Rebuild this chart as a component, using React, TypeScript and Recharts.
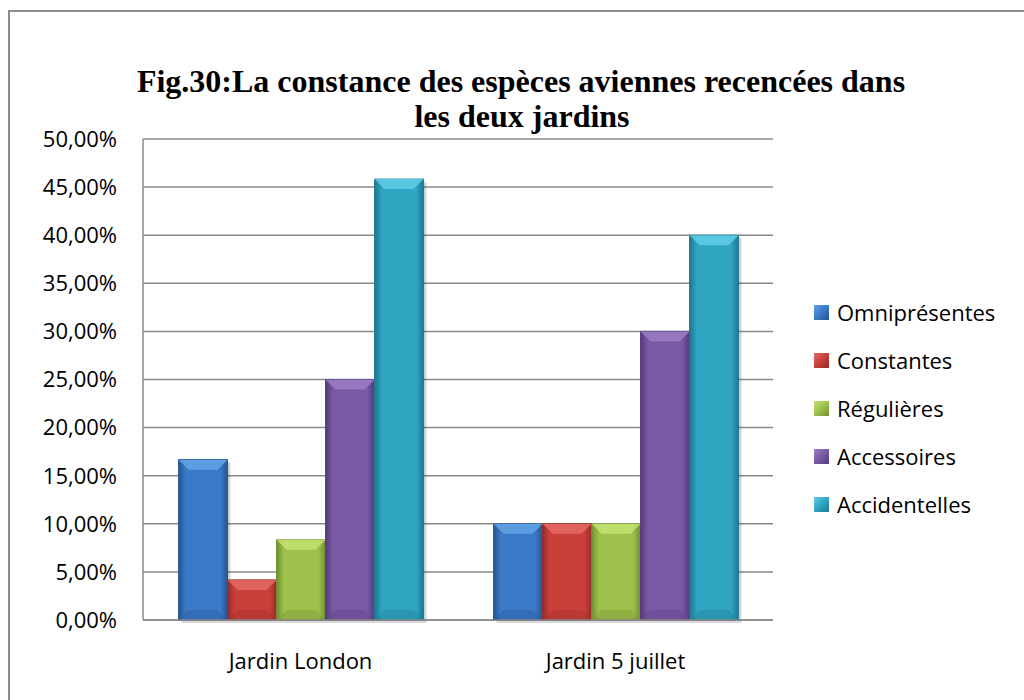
import { BarChart, Bar, XAxis, YAxis, CartesianGrid, Legend } from 'recharts';

const categories = ['Jardin London', 'Jardin 5 juillet'];
const omnipresentes = [16.67, 10];
const constantes = [4.17, 10];
const regulieres = [8.33, 10];
const accessoires = [25, 30];
const accidentelles = [45.83, 40];
const seriesNames = ['Omniprésentes', 'Constantes', 'Régulières', 'Accessoires', 'Accidentelles'];
const yTicks = [0, 5, 10, 15, 20, 25, 30, 35, 40, 45, 50];

const seriesValues = [omnipresentes, constantes, regulieres, accessoires, accidentelles];
const keys = ['omni', 'const', 'reg', 'acc', 'accid'];

const data = categories.map((name, i) => {
  const row: Record<string, string | number> = { name };
  keys.forEach((k, s) => { row[k] = seriesValues[s][i]; });
  return row;
});

// body / light top bevel / dark edge
const palette = [
  { body: '#3b79c9', light: '#63a3e6', edge: '#26548f' },
  { body: '#c9403b', light: '#e46a64', edge: '#962c28' },
  { body: '#9dc14b', light: '#c3e272', edge: '#6f8f33' },
  { body: '#7958a5', light: '#9b7ec6', edge: '#553a7e' },
  { body: '#30a5c2', light: '#62cde6', edge: '#1d7890' },
];

const sans = '"Open Sans", sans-serif';
const fmt = (v: number) => v.toFixed(2).replace('.', ',') + '%';

function BevelBar(props: any) {
  const { x, y, width, height, idx } = props;
  if (!height || height <= 0) return null;
  const c = palette[idx];
  const b = Math.min(10, height / 2);
  return (
    <g>
      <rect x={x + 3} y={y + 3} width={width} height={height} fill="rgba(0,0,0,0.15)" />
      <rect x={x} y={y} width={width} height={height} fill={`url(#grad${idx})`} stroke={c.edge} strokeWidth={1} />
      <polygon
        points={`${x},${y} ${x + width},${y} ${x + width - b},${y + b} ${x + b},${y + b}`}
        fill={c.light}
        opacity={0.85}
      />
      <polygon
        points={`${x},${y + height} ${x + width},${y + height} ${x + width - b},${y + height - b} ${x + b},${y + height - b}`}
        fill={c.edge}
        opacity={0.3}
      />
    </g>
  );
}

function LegendBox() {
  return (
    <div style={{ fontFamily: sans, fontSize: 22, color: '#000' }}>
      {seriesNames.map((n, i) => (
        <div key={n} style={{ display: 'flex', alignItems: 'center', height: 48 }}>
          <span
            style={{
              width: 15,
              height: 15,
              marginRight: 8,
              background: `linear-gradient(135deg, ${palette[i].light}, ${palette[i].body} 50%, ${palette[i].edge})`,
              display: 'inline-block',
            }}
          />
          <span>{n}</span>
        </div>
      ))}
    </div>
  );
}

const titleStyle: any = {
  position: 'absolute',
  whiteSpace: 'nowrap',
  transform: 'translateX(-50%)',
  fontFamily: '"Liberation Serif", serif',
  fontWeight: 'bold',
  fontSize: 32,
  lineHeight: '35px',
  color: '#000',
};

export default function App() {
  return (
    <div style={{ position: 'absolute', top: 0, left: 0, width: 1024, height: 700, overflow: 'hidden', background: '#fff' }}>
      <div style={{ position: 'absolute', left: 8, top: 10, width: 1040, height: 720, border: '2px solid #8c8c8c' }} />
      <div style={{ ...titleStyle, top: 64, left: 521 }}>Fig.30:La constance des espèces aviennes recencées dans</div>
      <div style={{ ...titleStyle, top: 99, left: 522 }}>les deux jardins</div>
      <div style={{ position: 'absolute', top: 0, left: 0 }}>
        <BarChart
          width={1024}
          height={700}
          data={data}
          margin={{ top: 139, right: 251, bottom: 40, left: 10 }}
          barCategoryGap="11.3%"
          barGap={0}
        >
          <defs>
            {palette.map((c, i) => (
              <linearGradient key={i} id={`grad${i}`} x1="0" y1="0" x2="1" y2="0">
                <stop offset="0%" stopColor={c.edge} />
                <stop offset="15%" stopColor={c.body} />
                <stop offset="50%" stopColor={c.body} />
                <stop offset="85%" stopColor={c.body} />
                <stop offset="100%" stopColor={c.edge} />
              </linearGradient>
            ))}
          </defs>
          <CartesianGrid vertical={false} stroke="#8a8a8a" strokeWidth={1.5} />
          <XAxis
            dataKey="name"
            tickLine={false}
            axisLine={{ stroke: '#8a8a8a', strokeWidth: 1.5 }}
            tickSize={0}
            tickMargin={33}
            height={40}
            tick={{ fill: '#000', fontSize: 22, fontFamily: sans }}
          />
          <YAxis
            domain={[0, 50]}
            ticks={yTicks}
            width={133}
            tickLine={false}
            tickSize={0}
            tickMargin={26}
            axisLine={{ stroke: '#8a8a8a', strokeWidth: 1.5 }}
            tickFormatter={fmt}
            tick={{ fill: '#000', fontSize: 22, fontFamily: sans }}
            interval={0}
          />
          <Legend
            layout="vertical"
            align="center"
            verticalAlign="middle"
            content={() => <LegendBox />}
            wrapperStyle={{ left: 814, top: 288, width: 210 }}
          />
          {keys.map((k, i) => (
            <Bar
              key={k}
              dataKey={k}
              name={seriesNames[i]}
              fill={palette[i].body}
              isAnimationActive={false}
              shape={(p: any) => <BevelBar {...p} idx={i} />}
            />
          ))}
        </BarChart>
      </div>
    </div>
  );
}
